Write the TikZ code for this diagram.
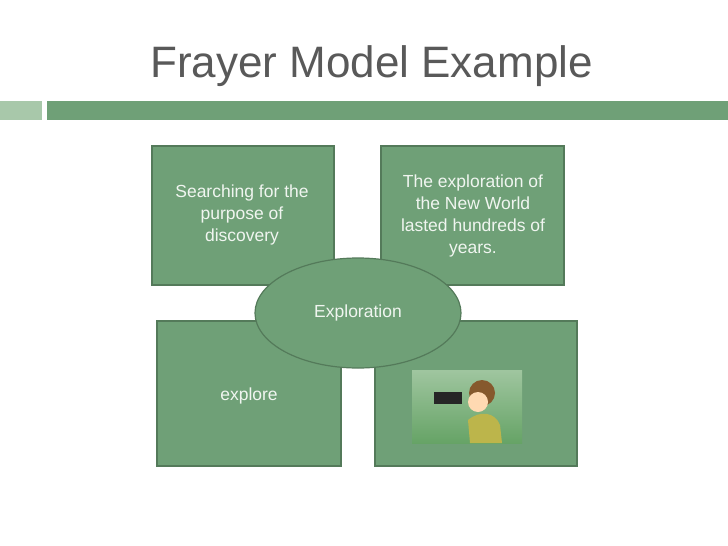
\documentclass[tikz,border=0pt]{standalone}
\usepackage{fontspec}
\usetikzlibrary{shapes.geometric}
\setmainfont{Liberation Sans}
\definecolor{boxg}{RGB}{111,160,119}
\definecolor{boxb}{RGB}{84,122,90}
\definecolor{lightg}{RGB}{168,200,170}
\definecolor{titleg}{RGB}{89,89,89}
\definecolor{txt}{RGB}{240,245,240}
\begin{document}
\begin{tikzpicture}[x=1pt,y=-1pt,
  card/.style={draw=boxb,line width=1.2pt,fill=boxg},
  cardtext/.style={text=txt,font=\fontsize{17.5}{22}\selectfont,align=center}]
\useasboundingbox (0,0) rectangle (728,546);
\node[anchor=base west,text=titleg,font=\fontsize{44}{50}\selectfont,inner sep=0] (title) at (150,77) {Frayer Model Example};
\fill[lightg] (0,101) rectangle (42,120);
\fill[boxg] (47,101) rectangle (728,120);
\draw[card] (152,146) rectangle (334,285);
\draw[card] (381,146) rectangle (564,285);
\draw[card] (157,321) rectangle (341,466);
\draw[card] (375,321) rectangle (577,466);
\node[cardtext] (def) at (242,215) {Searching for the\\purpose of\\discovery};
\node[cardtext] (sent) at (473,216) {The exploration of\\the New World\\lasted hundreds of\\years.};
\node[cardtext] (syn) at (249,396) {explore};
\node[draw=boxb,line width=1.2pt,fill=boxg,ellipse,minimum width=206pt,minimum height=110pt,inner sep=0,cardtext] (cen) at (358,313) {Exploration};
% photo placeholder
\shade[top color=green!25!gray!60,bottom color=green!40!black!60] (412,370) rectangle (522,443);
\fill[olive!60!white] (470,443) -- (468,420) .. controls (480,410) and (495,412) .. (500,425) -- (502,443) -- cycle;
\fill[brown!70!black] (482,393) circle (13);
\fill[orange!30!white] (478,402) circle (10);
\fill[black!85] (434,392) rectangle (462,404);
\node[inner sep=0,minimum width=110pt,minimum height=73pt] (photo) at (467,406.5) {};
\end{tikzpicture}
\end{document}
